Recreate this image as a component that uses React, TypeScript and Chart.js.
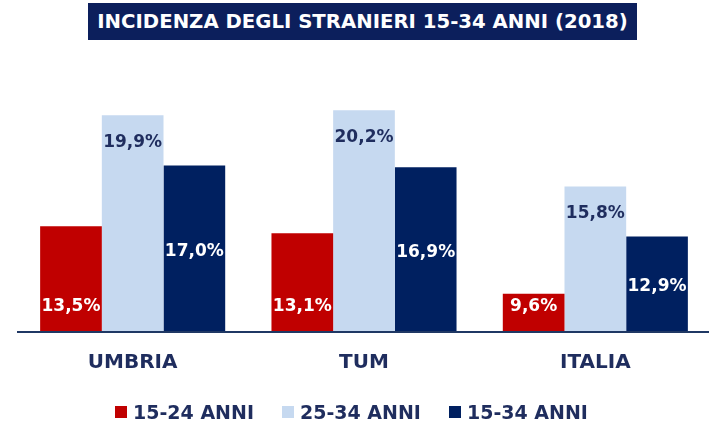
import React, { useEffect, useRef } from "react";
import { Chart, registerables } from "chart.js";
Chart.register(...registerables);

const categories = ["UMBRIA", "TUM", "ITALIA"];
const seriesNames = ["15-24 ANNI", "25-34 ANNI", "15-34 ANNI"];
const s1524 = [13.5, 13.1, 9.6];
const s2534 = [19.9, 20.2, 15.8];
const s1534 = [17.0, 16.9, 12.9];
const colors = ["#c00000", "#c6d9f0", "#002060"];
const labelColors = ["#ffffff", "#1f2d5e", "#ffffff"];
const labelPos = ["base", "end", "center"];
const titleText = "INCIDENZA DEGLI STRANIERI 15-34 ANNI (2018)";

const FONT = "'DejaVu Sans', sans-serif";

const labelPlugin = {
  id: "valueLabels",
  afterDatasetsDraw(chart: any) {
    const ctx = chart.ctx;
    const a = chart.chartArea;
    ctx.save();
    ctx.font = `bold 17px ${FONT}`;
    ctx.textAlign = "center";
    ctx.textBaseline = "middle";
    chart.data.datasets.forEach((ds: any, di: number) => {
      const meta = chart.getDatasetMeta(di);
      meta.data.forEach((bar: any, i: number) => {
        const v = ds.data[i];
        const txt = v.toFixed(1).replace(".", ",") + "%";
        const top = bar.y;
        const bottom = a.bottom;
        let y;
        if (labelPos[di] === "base") y = bottom - 24;
        else if (labelPos[di] === "end") y = top + 27;
        else y = (top + bottom) / 2 + 3;
        ctx.fillStyle = labelColors[di];
        ctx.fillText(txt, bar.x, y);
      });
    });
    ctx.strokeStyle = "#1f3864";
    ctx.lineWidth = 2;
    ctx.beginPath();
    ctx.moveTo(a.left, a.bottom + 1);
    ctx.lineTo(709, a.bottom + 1);
    ctx.stroke();
    ctx.restore();
  },
};

export default function App() {
  const ref = useRef<HTMLCanvasElement>(null);
  useEffect(() => {
    const chart = new Chart(ref.current!, {
      type: "bar",
      data: {
        labels: categories,
        datasets: [s1524, s2534, s1534].map((d, i) => ({
          label: seriesNames[i],
          data: d,
          backgroundColor: colors[i],
          borderWidth: 0,
          categoryPercentage: 0.8,
          barPercentage: 1.0,
        })),
      },
      options: {
        animation: false,
        responsive: false,
        layout: { padding: { left: 17, right: 0, top: 79, bottom: 0 } },
        plugins: { legend: { display: false }, tooltip: { enabled: false }, title: { display: false } },
        scales: {
          y: { display: false, min: 7.45, max: 22 },
          x: {
            grid: { display: false, drawTicks: false },
            border: { display: false },
            ticks: { color: "#1f2d5e", font: { family: FONT, size: 20, weight: "bold" }, padding: 20 },
            afterFit: (s: any) => { s.height = 99; },
          },
        },
      },
      plugins: [labelPlugin],
    });
    return () => chart.destroy();
  }, []);

  return (
    <div style={{ position: "absolute", left: 0, top: 0, width: 711, height: 430, background: "#fff", fontFamily: FONT }}>
      <canvas ref={ref} width={711} height={430} style={{ position: "absolute", left: 0, top: 0 }} />
      <div style={{ position: "absolute", left: 88, top: 3, width: 549, height: 37, background: "#0c1f5c", color: "#fff", fontSize: 19.7, fontWeight: "bold", lineHeight: "37px", textAlign: "center", whiteSpace: "nowrap" }}>
        {titleText}
      </div>
      <div style={{ position: "absolute", left: 115, top: 400, height: 24, display: "flex", color: "#1f2d5e", fontSize: 19, fontWeight: "bold", lineHeight: "24px", whiteSpace: "nowrap" }}>
        {seriesNames.map((n, i) => (
          <div key={n} style={{ display: "flex", alignItems: "center", marginRight: i < 2 ? 28 : 0 }}>
            <span style={{ width: 12, height: 12, background: colors[i], display: "inline-block", marginRight: 6 }} />
            <span>{n}</span>
          </div>
        ))}
      </div>
    </div>
  );
}
